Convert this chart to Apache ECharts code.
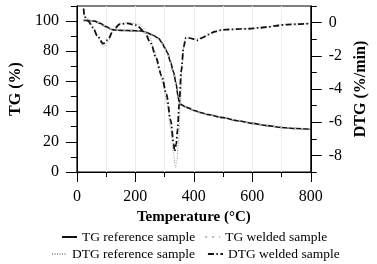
<!DOCTYPE html>
<html><head><meta charset="utf-8">
<script src="https://cdn.jsdelivr.net/npm/echarts@6/dist/echarts.min.js"></script>
<style>html,body{margin:0;padding:0;background:#fff;}#c{width:377px;height:264px;}</style>
</head><body><div id="c"></div>
<script>
// ---- data ----
const seriesNames = ['TG reference sample', 'TG welded sample', 'DTG reference sample', 'DTG welded sample'];
const xTicks = [0, 200, 400, 600, 800];
const tgTicks = [0, 20, 40, 60, 80, 100];
const dtgTicks = [-8, -6, -4, -2, 0];

const tgTemp   = [23, 40, 60, 80, 100, 120, 140, 160, 180, 200, 220, 240, 260, 280, 290, 300, 310, 320, 330, 340, 345, 350, 355, 360, 370, 380, 400, 425, 450, 500, 550, 600, 650, 700, 750, 800];
const tgRef    = [100.5, 100.4, 100, 98.5, 96.3, 94.4, 93.9, 93.8, 93.7, 93.6, 93.4, 92.3, 90.6, 88.5, 86, 82.5, 79, 73, 66.5, 58, 51, 46.5, 45, 44.3, 43.3, 42.5, 40.8, 39.3, 38, 36, 34, 32.2, 30.7, 29.5, 28.8, 28.3];
const tgWeld   = [101.3, 100.6, 100.1, 98.7, 96.5, 94.6, 94.0, 93.9, 93.8, 93.7, 93.4, 92.0, 90.2, 88.0, 85.5, 82.0, 78.5, 72.5, 66.0, 57.5, 50.5, 46.3, 44.9, 44.2, 43.2, 42.4, 40.9, 39.4, 38.1, 36.1, 34.1, 32.3, 30.8, 29.6, 28.9, 28.4];

const dtgRefTemp = [23, 35, 50, 70, 90, 105, 125, 150, 175, 200, 215, 235, 250, 265, 280, 295, 310, 320, 330, 337, 342, 347, 354, 360, 368, 375, 385, 400, 430, 470, 500, 550, 600, 650, 700, 750, 800];
const dtgRef     = [0.45, 0.3, -0.1, -0.85, -1.45, -1.2, -0.45, -0.07, 0.0, -0.05, -0.12, -0.42, -0.9, -1.7, -2.8, -3.7, -5.0, -6.3, -7.8, -8.75, -8.3, -7.3, -4.9, -2.5, -1.07, -0.95, -0.95, -1.0, -0.87, -0.57, -0.43, -0.38, -0.35, -0.25, -0.12, -0.08, -0.03];

const dtgWeldTemp = [23, 26, 38, 55, 70, 90, 105, 126, 146, 172, 203, 229, 254, 270, 290, 306, 321, 331, 334, 340, 344, 350, 357, 365, 373, 383, 393, 414, 430, 450, 470, 490, 510, 530, 560, 590, 620, 650, 680, 700, 720, 750, 780, 800];
const dtgWeld     = [0.85, 0.35, 0.1, -0.3, -0.8, -1.27, -1.05, -0.42, -0.1, -0.05, -0.16, -0.5, -1.27, -2.1, -3.2, -4.3, -5.9, -7.3, -7.75, -7.3, -6.5, -4.9, -2.9, -1.48, -0.91, -0.92, -0.97, -1.07, -0.9, -0.72, -0.55, -0.46, -0.42, -0.41, -0.38, -0.37, -0.32, -0.27, -0.2, -0.15, -0.12, -0.1, -0.08, -0.05];

const pairs = (xs, ys) => xs.map((x, i) => [x, ys[i]]);
const FONT = "'Liberation Serif', 'Times New Roman', serif";

const chart = echarts.init(document.getElementById('c'), null, {renderer: 'canvas'});
const minorTG = [10, 30, 50, 70, 90, 110];
const minorDTG = [-9, -7, -5, -3, -1, 1];

const axisBase = {
  axisLine: {show: true, onZero: false, lineStyle: {color: '#000', width: 1}},
  splitLine: {show: false}
};
const legendText = {fontFamily: FONT, fontSize: 13.5, color: '#000'};
const legendBase = {padding: 0, icon: 'inherit', itemWidth: 15, itemHeight: 10, itemStyle: {opacity: 0}, textStyle: legendText};

chart.setOption({
  animation: false,
  backgroundColor: '#fff',
  textStyle: {fontFamily: FONT},
  grid: {left: 61, right: 57, top: 6, bottom: 92, show: true, borderColor: '#000', borderWidth: 1, backgroundColor: 'transparent'},
  legend: [
    Object.assign({}, legendBase, {data: seriesNames.slice(0, 2), left: 61, top: 230, itemGap: 9}),
    Object.assign({}, legendBase, {data: seriesNames.slice(2, 4), left: 51, top: 247, itemGap: 12})
  ],
  xAxis: {
    type: 'value', min: 0, max: 800, interval: 200,
    name: 'Temperature (°C)', nameLocation: 'middle', nameGap: 36,
    nameTextStyle: {fontFamily: FONT, fontSize: 15, fontWeight: 'bold', color: '#000'},
    axisLine: {show: true, onZero: false, lineStyle: {color: '#000', width: 1}},
    axisTick: {show: true, inside: false, length: 10, lineStyle: {color: '#000'}},
    minorTick: {show: true, splitNumber: 2, length: 5, lineStyle: {color: '#000'}},
    splitLine: {show: true, lineStyle: {color: '#ececec', width: 1}},
    minorSplitLine: {show: true, lineStyle: {color: '#ececec', width: 1}},
    axisLabel: {customValues: xTicks, margin: 17, fontFamily: FONT, fontSize: 16, color: '#000'}
  },
  yAxis: [
    Object.assign({}, axisBase, {
      type: 'value', position: 'left', min: 0, max: 110,
      name: 'TG (%)', nameLocation: 'middle', nameGap: 47, nameRotate: 90,
      nameTextStyle: {fontFamily: FONT, fontSize: 16, fontWeight: 'bold', color: '#000'},
      axisTick: {show: true, inside: false, length: 11, customValues: tgTicks, lineStyle: {color: '#000'}},
      axisLabel: {customValues: tgTicks, margin: 18, fontFamily: FONT, fontSize: 16, color: '#000'}
    }),
    Object.assign({}, axisBase, {
      type: 'value', position: 'right', min: -9, max: 1,
      name: 'DTG (%/min)', nameLocation: 'middle', nameGap: 41, nameRotate: 90,
      nameTextStyle: {fontFamily: FONT, fontSize: 16, fontWeight: 'bold', color: '#000'},
      axisTick: {show: true, inside: false, length: 11, customValues: dtgTicks, lineStyle: {color: '#000'}},
      axisLabel: {customValues: dtgTicks, margin: 18, fontFamily: FONT, fontSize: 16, color: '#000'}
    }),
    Object.assign({}, axisBase, {
      type: 'value', position: 'left', min: 0, max: 110, offset: 0,
      axisTick: {show: true, inside: false, length: 6, customValues: minorTG, lineStyle: {color: '#000'}},
      axisLabel: {show: false, customValues: minorTG}
    }),
    Object.assign({}, axisBase, {
      type: 'value', position: 'right', min: -9, max: 1, offset: 0,
      axisTick: {show: true, inside: false, length: 6, customValues: minorDTG, lineStyle: {color: '#000'}},
      axisLabel: {show: false, customValues: minorDTG}
    })
  ],
  series: [
    {name: seriesNames[0], type: 'line', yAxisIndex: 0, data: pairs(tgTemp, tgRef), symbol: 'none', smooth: 0.3, smoothMonotone: 'x',
     lineStyle: {color: '#111', width: 1.6, type: 'solid'}, itemStyle: {color: '#111'}, z: 2},
    {name: seriesNames[1], type: 'line', yAxisIndex: 0, data: pairs(tgTemp, tgWeld), symbol: 'none', smooth: 0.3, smoothMonotone: 'x',
     lineStyle: {color: '#b8b8b8', width: 1.5, type: [2, 5]}, itemStyle: {color: '#b8b8b8'}, z: 4},
    {name: seriesNames[2], type: 'line', yAxisIndex: 1, data: pairs(dtgRefTemp, dtgRef), symbol: 'none', smooth: 0.3, smoothMonotone: 'x',
     lineStyle: {color: '#9a9a9a', width: 1, type: [1, 1.5]}, itemStyle: {color: '#9a9a9a'}, z: 3},
    {name: seriesNames[3], type: 'line', yAxisIndex: 1, data: pairs(dtgWeldTemp, dtgWeld), symbol: 'none', smooth: 0.3, smoothMonotone: 'x',
     lineStyle: {color: '#111', width: 1.8, type: [6, 2.5, 1.5, 2.5]}, itemStyle: {color: '#111'}, z: 3}
  ]
});
</script>
</body></html>
